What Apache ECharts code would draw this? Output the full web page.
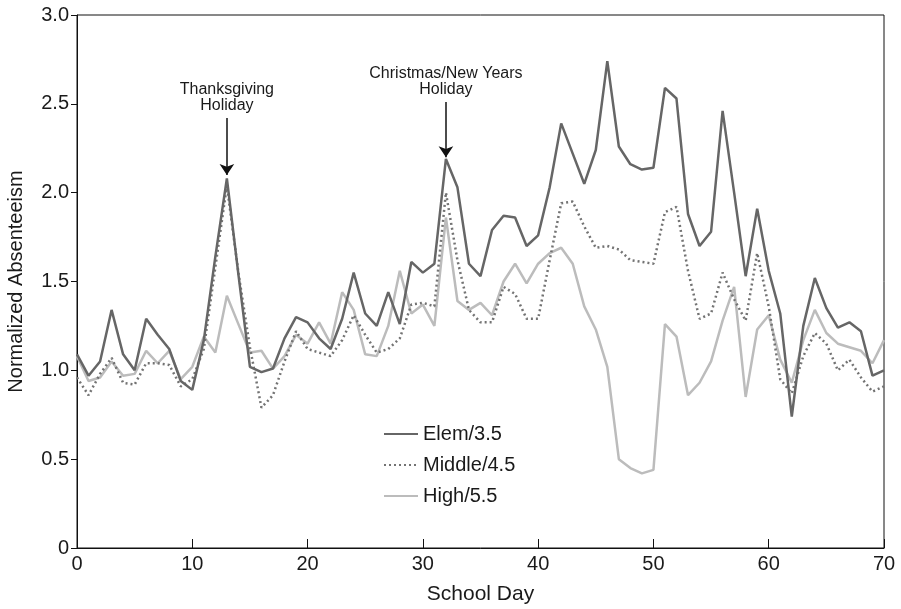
<!DOCTYPE html>
<html>
<head>
<meta charset="utf-8">
<script src="https://cdn.jsdelivr.net/npm/echarts@6/dist/echarts.min.js"></script>
<style>
  html, body { margin: 0; padding: 0; background: #fff; }
  #chart { width: 901px; height: 609px; }
</style>
</head>
<body>
<div id="chart"></div>
<script>
// school days 0..70
var days = Array.from({ length: 71 }, function (_, i) { return i })

var elem = [1.09, 0.97, 1.05, 1.34, 1.09, 1.00, 1.29, 1.20, 1.12, 0.94,
  0.89, 1.17, 1.64, 2.08, 1.54, 1.02, 0.99, 1.01, 1.18, 1.30,
  1.27, 1.18, 1.12, 1.29, 1.55, 1.32, 1.25, 1.44, 1.26, 1.61,
  1.55, 1.60, 2.19, 2.03, 1.60, 1.53, 1.79, 1.87, 1.86, 1.70,
  1.76, 2.03, 2.39, 2.22, 2.05, 2.24, 2.74, 2.26, 2.16, 2.13,
  2.14, 2.59, 2.53, 1.88, 1.70, 1.78, 2.46, 2.00, 1.53, 1.91,
  1.56, 1.32, 0.74, 1.25, 1.52, 1.35, 1.24, 1.27, 1.22, 0.97, 1.00]

var middle = [0.96, 0.86, 0.98, 1.07, 0.93, 0.92, 1.04, 1.04, 1.03, 0.91,
  0.95, 1.12, 1.58, 2.04, 1.55, 1.13, 0.79, 0.86, 1.05, 1.22,
  1.12, 1.10, 1.08, 1.17, 1.31, 1.20, 1.10, 1.12, 1.18, 1.37,
  1.38, 1.36, 2.00, 1.62, 1.34, 1.27, 1.27, 1.47, 1.43, 1.29,
  1.29, 1.62, 1.94, 1.95, 1.81, 1.69, 1.70, 1.68, 1.62, 1.61,
  1.60, 1.89, 1.92, 1.56, 1.29, 1.32, 1.55, 1.40, 1.28, 1.66,
  1.36, 0.95, 0.87, 1.08, 1.21, 1.15, 1.00, 1.06, 0.96, 0.88, 0.91]

var high = [1.08, 0.94, 0.96, 1.05, 0.97, 0.98, 1.11, 1.04, 1.11, 0.95,
  1.02, 1.19, 1.10, 1.42, 1.26, 1.10, 1.11, 1.01, 1.08, 1.20,
  1.15, 1.27, 1.15, 1.44, 1.34, 1.09, 1.08, 1.25, 1.56, 1.32,
  1.37, 1.25, 1.86, 1.39, 1.34, 1.38, 1.31, 1.50, 1.60, 1.49,
  1.60, 1.66, 1.69, 1.60, 1.36, 1.23, 1.02, 0.50, 0.45, 0.42,
  0.44, 1.26, 1.19, 0.86, 0.93, 1.05, 1.28, 1.47, 0.85, 1.23,
  1.31, 1.06, 0.93, 1.17, 1.34, 1.21, 1.15, 1.13, 1.11, 1.04, 1.17]

var seriesNames = ['Elem/3.5', 'Middle/4.5', 'High/5.5']

// holiday arrows: [day, top, tip, text]
var holidays = [
  [13, 2.42, 2.10, 'Thanksgiving\nHoliday'],
  [32, 2.51, 2.20, 'Christmas/New Years\nHoliday']
]

function pairs (vals) {
  return days.map(function (d, i) { return [d, vals[i]] })
}

var font = 'Liberation Sans, Arial, sans-serif'
var myChart = echarts.init(document.getElementById('chart'))

myChart.setOption({
  animation: false,
  textStyle: { fontFamily: font },
  grid: {
    left: 77, right: 17, top: 15, bottom: 61,
    outerBoundsMode: 'none',
    show: true, borderColor: '#111', borderWidth: 1
  },
  legend: {
    orient: 'vertical',
    left: 378, top: 419,
    itemWidth: 34, itemHeight: 10, itemGap: 11,
    itemStyle: { opacity: 0 },
    textStyle: { fontSize: 20, color: '#1a1a1a', fontFamily: font },
    data: seriesNames
  },
  xAxis: {
    type: 'value',
    min: 0, max: 70, interval: 10,
    name: 'School Day',
    nameLocation: 'middle',
    nameGap: 36,
    nameTextStyle: { fontSize: 21, color: '#1a1a1a' },
    axisLine: { lineStyle: { color: '#111', width: 1 } },
    axisTick: { inside: true, length: 9, lineStyle: { color: '#111' } },
    axisLabel: { fontSize: 20, color: '#1a1a1a', margin: 6 },
    splitLine: { show: false }
  },
  yAxis: {
    type: 'value',
    min: 0, max: 3, interval: 0.5,
    name: 'Normalized Absenteeism',
    nameLocation: 'middle',
    nameGap: 51,
    nameTextStyle: { fontSize: 20, color: '#1a1a1a' },
    axisLine: { show: true, lineStyle: { color: '#111', width: 1 } },
    axisTick: { show: true, length: 6, lineStyle: { color: '#111' } },
    axisLabel: {
      fontSize: 20, color: '#1a1a1a', margin: 8,
      formatter: function (v) { return v === 0 ? '0' : v.toFixed(1) }
    },
    splitLine: { show: false }
  },
  series: [
    {
      name: seriesNames[0],
      type: 'line',
      symbol: 'none',
      data: pairs(elem),
      lineStyle: { color: '#666666', width: 2.5 },
      itemStyle: { color: '#666666' },
      z: 4,
      markLine: {
        silent: true,
        symbol: ['none', 'arrow'],
        symbolSize: 11,
        lineStyle: { color: '#111', width: 1.5, type: 'solid' },
        label: {
          show: true, position: 'start', distance: 4,
          fontSize: 16, lineHeight: 16, color: '#1a1a1a',
          formatter: function (p) { return p.data.text }
        },
        data: holidays.map(function (h) {
          return [{ coord: [h[0], h[1]], text: h[3] }, { coord: [h[0], h[2]] }]
        })
      }
    },
    {
      name: seriesNames[1],
      type: 'line',
      symbol: 'none',
      data: pairs(middle),
      lineStyle: { color: '#737373', width: 2.5, type: [2, 3] },
      itemStyle: { color: '#737373' },
      z: 3
    },
    {
      name: seriesNames[2],
      type: 'line',
      symbol: 'none',
      data: pairs(high),
      lineStyle: { color: '#bcbcbc', width: 2.5 },
      itemStyle: { color: '#bcbcbc' },
      z: 2
    }
  ]
})
</script>
</body>
</html>
